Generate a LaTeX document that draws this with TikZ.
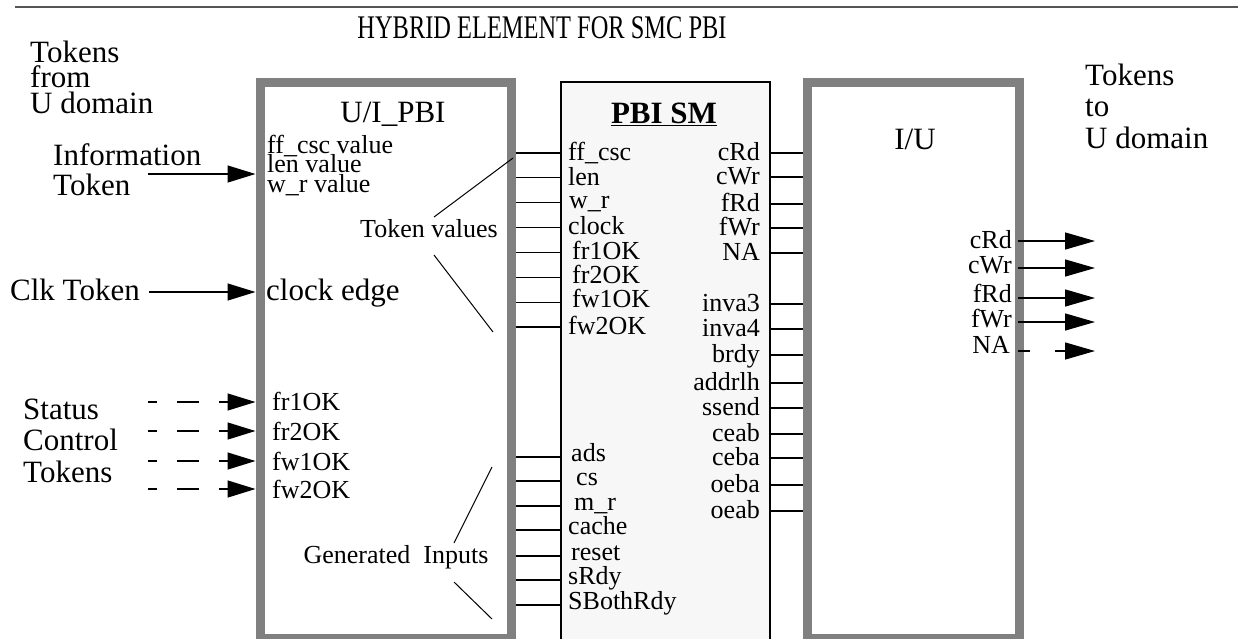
\documentclass[tikz,border=0pt]{standalone}
\usepackage{fontspec}
\setmainfont{Liberation Serif}
\usetikzlibrary{arrows.meta}
\definecolor{frame}{RGB}{128,128,128}
\definecolor{rulegray}{RGB}{85,85,85}
\definecolor{panel}{RGB}{247,247,247}
\begin{document}
\begin{tikzpicture}[
  x=1pt, y=-1pt,
  blk/.style={draw=frame, line width=9pt, fill=white, inner sep=0pt},
  core/.style={draw=black, line width=1.1pt, fill=panel, inner sep=0pt},
  big/.style={font=\fontsize{31}{31}\selectfont, inner sep=0pt},
  pin/.style={font=\fontsize{26}{26}\selectfont, inner sep=0pt},
  wire/.style={draw=black, line width=1.2pt},
  lead/.style={draw=black, line width=1pt},
  sig/.style={draw=black, line width=1.3pt, -{Triangle[length=28pt, width=17pt]}},
  stat/.style={sig, dash pattern=on 22pt off 20pt, dash phase=13pt},
  outsig/.style={draw=black, line width=1.3pt, -{Triangle[length=30pt, width=17pt]}}]
  \useasboundingbox (0,0) rectangle (1238,638);
  % header
  \coordinate (ruleL) at (15,7);
  \coordinate (ruleR) at (1238,7);
  \draw[rulegray, line width=2.5pt] (ruleL) -- (ruleR);
  \node[anchor=base, inner sep=0pt, font=\fontsize{33}{33}\selectfont] (title) at (542,38)
    {\scalebox{0.74}[1]{HYBRID ELEMENT FOR SMC PBI}};
  % blocks
  \node[blk, minimum width=251.5pt, minimum height=556.5pt] (uipbi) at (385.75,360.25) {};
  \node[core, minimum width=209pt, minimum height=618pt] (pbism) at (665.5,391) {};
  \node[blk, minimum width=211.5pt, minimum height=556.5pt] (iu) at (913.25,360.25) {};
  \node[big, anchor=base] (uititle) at (393,122) {U/I\_PBI};
  \node[big, anchor=base] (smtitle) at (664,123) {\textbf{\underline{PBI SM}}};
  \node[big, anchor=base] (iutitle) at (915,149) {I/U};
  % side captions
  \foreach \t [count=\i] in {Tokens, from, U domain}
    \node[big, anchor=base west] (fromu\i) at (30,{62+25.5*(\i-1)}) {\t};
  \foreach \t [count=\i] in {Tokens, to, U domain}
    \node[big, anchor=base west] (tou\i) at (1085,{85+31.5*(\i-1)}) {\t};
  \foreach \t [count=\i] in {Information, Token}
    \node[big, anchor=base west] (info\i) at (53,{165+30*(\i-1)}) {\t};
  \foreach \t [count=\i] in {Status, Control, Tokens}
    \node[big, anchor=base west] (stc\i) at (23,{419+31.5*(\i-1)}) {\t};
  \node[big, anchor=base west] (clk) at (10,300) {Clk Token};
  % inputs of U/I_PBI
  \coordinate (infoin) at (148,174);
  \draw[sig] (infoin) -- (infoin -| uipbi.west);
  \foreach \t [count=\i] in {ff\_csc value, len value, w\_r value}
    \node[pin, anchor=base west] (val\i) at (267,{153+19.5*(\i-1)}) {\t};
  \coordinate (clkin) at (149,292);
  \draw[sig] (clkin) -- (clkin -| uipbi.west);
  \node[big, anchor=base west] (edge) at (266,300) {clock edge};
  \foreach \t/\ly/\ty [count=\i] in {fr1OK/402/410, fr2OK/431/440, fw1OK/461/470, fw2OK/489/498}{
    \coordinate (stin\i) at (148,\ly);
    \draw[stat] (stin\i) -- (stin\i -| uipbi.west);
    \node[pin, anchor=base west] (st\i) at (272,\ty) {\t};
  }
  % U/I_PBI -> PBI SM
  \foreach \t/\ly/\lx/\ty [count=\i] in {ff\_csc/153/568/160, len/177.5/568/185,
      w\_r/202.5/569/208, clock/227.5/568/234, fr1OK/252.5/572/259,
      fr2OK/277.5/572/283, fw1OK/302.5/572/307, fw2OK/327/568/334}{
    \coordinate (la\i) at (0,\ly);
    \draw[wire] (uipbi.east |- la\i) -- (pbism.west |- la\i);
    \node[pin, anchor=base west] (lat\i) at (\lx,\ty) {\t};
  }
  \foreach \t/\ly/\lx [count=\i] in {ads/457/571, cs/481/576, m\_r/506/574,
      cache/530/568, reset/556/571, sRdy/580/568, SBothRdy/605/568}{
    \coordinate (lb\i) at (0,\ly);
    \draw[wire] (uipbi.east |- lb\i) -- (pbism.west |- lb\i);
    \node[pin, anchor=base west] (lbt\i) at (\lx,\ly+4) {\t};
  }
  \node[pin, anchor=base] (tokval) at (429,237) {Token values};
  \coordinate (tv1) at (434,217); \coordinate (tv2) at (513,158);
  \coordinate (tv3) at (434,255); \coordinate (tv4) at (493,332);
  \draw[lead] (tv1) -- (tv2);
  \draw[lead] (tv3) -- (tv4);
  \node[pin, anchor=base] (geninp) at (396,563) {Generated\ \ Inputs};
  \coordinate (gi1) at (454,543); \coordinate (gi2) at (492,467);
  \coordinate (gi3) at (454,582); \coordinate (gi4) at (492,619);
  \draw[lead] (gi1) -- (gi2);
  \draw[lead] (gi3) -- (gi4);
  % PBI SM -> I/U
  \foreach \t/\ly [count=\i] in {cRd/153, cWr/177, fRd/204, fWr/228, NA/253,
      inva3/304, inva4/329, brdy/355, addrlh/383, ssend/408, ceab/434,
      ceba/458, oeba/485, oeab/511}{
    \coordinate (ra\i) at (0,\ly);
    \draw[wire] (pbism.east |- ra\i) -- (iu.west |- ra\i);
    \node[pin, anchor=base east] (rat\i) at (760,\ly+7.5) {\t};
  }
  % outputs of I/U
  \foreach \t/\ly/\ty [count=\i] in {cRd/241/248, cWr/268/273, fRd/298/302, fWr/322/327}{
    \coordinate (oa\i) at (1095,\ly);
    \draw[outsig] ([xshift=-5.5pt]iu.east |- oa\i) -- (oa\i);
    \node[pin, anchor=base east] (oat\i) at (1012,\ty) {\t};
  }
  \coordinate (oa5) at (1095,351);
  \draw[outsig, dash pattern=on 12pt off 25pt] ([xshift=-5.5pt]iu.east |- oa5) -- (oa5);
  \node[pin, anchor=base east] (oat5) at (1010,353) {NA};
\end{tikzpicture}
\end{document}
